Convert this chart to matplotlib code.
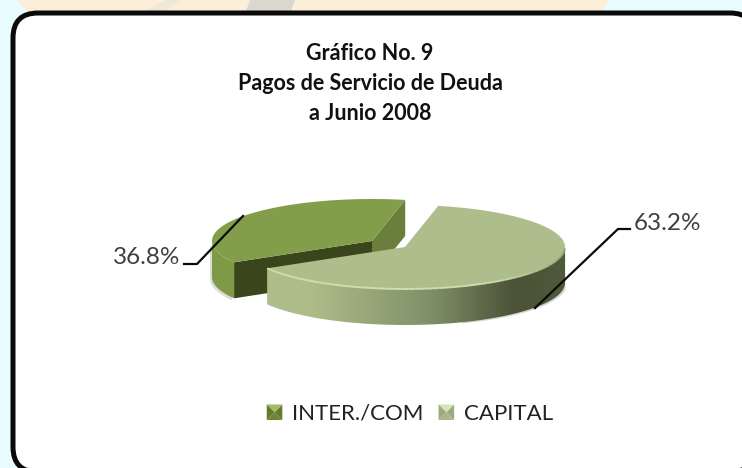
import numpy as np
import matplotlib
matplotlib.use("Agg")
import matplotlib.pyplot as plt
from matplotlib.collections import LineCollection
from matplotlib.colors import LinearSegmentedColormap
from matplotlib.legend_handler import HandlerBase
from matplotlib.patches import FancyBboxPatch, Patch, Polygon

categories = ["INTER./COM", "CAPITAL"]
values = [36.8, 63.2]
title_lines = ["Gráfico No. 9", "Pagos de Servicio de Deuda", "a Junio 2008"]

plt.rcParams["font.family"] = ["Lato", "DejaVu Sans"]

# ellipse of the tilted pie, in pixels of the picture
A = 160
B = 42
DEPTH = 36
START = 210.5
CENTERS = [(372, 241), (405, 247)]


def arc(center, t0, t1, dy=0):
    t = np.radians(np.linspace(t0, t1, 120))
    return np.column_stack([center[0] + A * np.cos(t), center[1] + dy - B * np.sin(t)])


def point(center, t, dy=0):
    return arc(center, t, t, dy)[:1]


def side(center, t0, t1):
    return np.vstack([arc(center, t0, t1), arc(center, t1, t0, DEPTH)])


def wedge(center, t0, t1):
    return np.vstack([[center], arc(center, t0, t1)])


class BevelHandler(HandlerBase):
    def create_artists(self, legend, orig, xd, yd, w, h, fontsize, trans):
        c = np.array([w / 2 - xd, h / 2 - yd])
        s = min(w, h) / 2
        corners = [c + [-s, -s], c + [s, -s], c + [s, s], c + [-s, s]]
        cols = orig.bevel
        out = []
        for i in range(4):
            out.append(Polygon([corners[i], corners[(i + 1) % 4], c], closed=True,
                               facecolor=cols[i], edgecolor="none", transform=trans))
        return out


fig = plt.figure(figsize=(7.42, 4.68), dpi=100)
ax = fig.add_axes([0, 0, 1, 1])
ax.set_xlim(0, 742)
ax.set_ylim(468, 0)
ax.axis("off")
ax.add_patch(Polygon([[0, 0], [742, 0], [742, 468], [0, 468]], facecolor="#E9FCFF", edgecolor="none"))

# strip of the slide picture showing above the box
ax.add_patch(Polygon([[17, 0], [610, 0], [600, 14], [30, 14]], facecolor="#FBEFD9", edgecolor="none"))
ax.add_patch(Polygon([[140, 14], [165, 0], [180, 0], [160, 14]], facecolor="#EFE8D8", edgecolor="none"))
ax.add_patch(Polygon([[245, 14], [250, 0], [295, 0], [290, 14]], facecolor="#D9D7D0", edgecolor="none"))

ax.add_patch(FancyBboxPatch((13, 13), 742, 459, boxstyle="round,pad=0,rounding_size=25",
                            facecolor="white", edgecolor="#0A0A0A", linewidth=3.6))

spans = []
t = START
for v in values:
    spans.append((t, t - v / sum(values) * 360))
    t = spans[-1][1]

c_in, c_cap = CENTERS
in0, in1 = spans[0]
cap0, cap1 = spans[1]

# soft shadows behind the outer walls
shadow = side((c_in[0] - 2, c_in[1] + 2), 180, in0)
ax.add_patch(Polygon(shadow, facecolor="#BBBBBB", edgecolor="none", alpha=0.5))
shadow = side((c_cap[0] + 2, c_cap[1] + 1), -70, -8)
ax.add_patch(Polygon(shadow, facecolor="#B0B0A8", edgecolor="none", alpha=0.5))

# INTER./COM slice: cut faces, outer wall, top
p0 = np.array(c_in)
p1 = point(c_in, in1)[0]
p2 = point(c_in, in0)[0]
ax.add_patch(Polygon([p0, p1, p1 + [0, DEPTH], p0 + [0, DEPTH]], facecolor="#6B7F3C", edgecolor="none"))
ax.add_patch(Polygon(side(c_in, 180, in0), facecolor="#7E9A47", edgecolor="none"))
ax.add_patch(Polygon([p0, p2, p2 + [0, DEPTH], p0 + [0, DEPTH]], facecolor="#3A451B", edgecolor="none"))
ax.add_patch(Polygon(wedge(c_in, in1, in0), facecolor="#839E4A", edgecolor="none"))

# CAPITAL slice: wall with a horizontal gradient, then top and rim
wall = Polygon(side(c_cap, cap1, 0), facecolor="none", edgecolor="none")
ax.add_patch(wall)
x0 = c_cap[0] + A * np.cos(np.radians(cap1))
x1 = c_cap[0] + A
shade = LinearSegmentedColormap.from_list("wall", [(0, "#AEBD8A"), (0.14, "#AEBD8A"), (0.55, "#7F9068"),
                                                   (0.83, "#4B5238"), (1, "#4F5A3A")])
top_y = c_cap[1] - B
img = ax.imshow(np.linspace(0, 1, 256).reshape(1, -1), cmap=shade, aspect="auto",
                extent=(x0, x1, c_cap[1] + B + DEPTH, top_y), zorder=2)
img.set_clip_path(wall)
ax.set_xlim(0, 742)
ax.set_ylim(468, 0)
ax.add_patch(Polygon(wedge(c_cap, cap1, cap0), facecolor="#ADBD8B", edgecolor="none", zorder=3))

# light rim along the front edge, fading out towards the dark side
rim = arc(c_cap, cap1, -2)
rim_shade = LinearSegmentedColormap.from_list("rim", [(0, "#CFE0AC"), (0.6, "#CFE0AC"), (1, "#8C9A70")])
segs = np.stack([rim[:-1], rim[1:]], axis=1)
ax.add_collection(LineCollection(segs, colors=rim_shade(np.linspace(0, 1, len(segs))), linewidths=1.4, zorder=4))

# leader lines
ax.plot([184, 197, 243], [264, 264, 216], color="#0A0A0A", lw=1.6, zorder=5)
ax.plot([535, 618, 630], [308, 229, 229], color="#0A0A0A", lw=1.6, zorder=5)
ax.text(180, 257, f"{values[0]}%", ha="right", va="center", fontsize=17.5, color="#404040", zorder=5)
ax.text(634, 223, f"{values[1]}%", ha="left", va="center", fontsize=17.5, color="#404040", zorder=5)

for y, line in zip([53, 83, 113], title_lines):
    ax.text(370, y, line, ha="center", va="center", fontsize=15.5, fontweight="bold", color="#111111")

handles = []
bevels = [["#6F8638", "#647A30", "#A3BD62", "#647A30"], ["#A8B688", "#9CAB7C", "#D8E3BE", "#9CAB7C"]]
for name, cols in zip(categories, bevels):
    h = Patch(label=name)
    h.bevel = cols
    handles.append(h)
ax.legend(handles=handles, handler_map={Patch: BevelHandler()}, loc="center", bbox_to_anchor=(410, 414),
          bbox_transform=ax.transData, ncols=2, frameon=False, fontsize=16, labelcolor="#222222",
          handlelength=0.7, handleheight=0.7, handletextpad=0.45, columnspacing=0.67)

fig.savefig("out.png", dpi=100)
